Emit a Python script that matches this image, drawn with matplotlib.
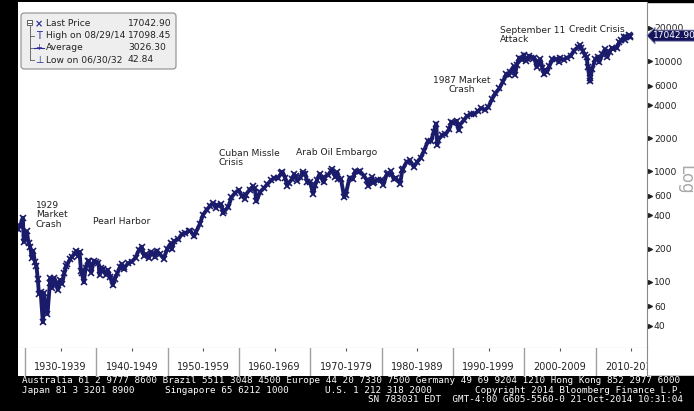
import matplotlib.pyplot as plt
import matplotlib.transforms as mtrans
from matplotlib.patches import Rectangle, FancyBboxPatch
from matplotlib.lines import Line2D
import numpy as np

# Dow Jones Industrial Average (decimal year, index level)
years = [
    1929.0, 1929.3, 1929.7, 1929.83, 1929.95,
    1930.25, 1930.5, 1930.75, 1930.95,
    1931.15, 1931.4, 1931.6, 1931.8, 1931.95,
    1932.2, 1932.5, 1932.65, 1932.9,
    1933.15, 1933.5, 1933.55, 1933.8, 1933.95,
    1934.1, 1934.5, 1934.6, 1934.95,
    1935.2, 1935.5, 1935.8, 1935.95,
    1936.3, 1936.6, 1936.95,
    1937.2, 1937.5, 1937.65, 1937.85, 1937.95,
    1938.25, 1938.5, 1938.85, 1938.95,
    1939.3, 1939.65, 1939.95,
    1940.3, 1940.45, 1940.7, 1940.95,
    1941.3, 1941.6, 1941.95,
    1942.3, 1942.6, 1942.95,
    1943.3, 1943.55, 1943.9, 1943.95,
    1944.5, 1944.95,
    1945.5, 1945.95,
    1946.35, 1946.7, 1946.95,
    1947.4, 1947.6, 1947.95,
    1948.2, 1948.45, 1948.95,
    1949.45, 1949.95,
    1950.45, 1950.55, 1950.95,
    1951.5, 1951.95,
    1952.5, 1952.95,
    1953.2, 1953.7, 1953.95,
    1954.5, 1954.95,
    1955.5, 1955.95,
    1956.3, 1956.8, 1956.95,
    1957.5, 1957.8, 1957.95,
    1958.5, 1958.95,
    1959.5, 1959.95,
    1960.4, 1960.8, 1960.95,
    1961.5, 1961.95,
    1962.2, 1962.45, 1962.95,
    1963.5, 1963.95,
    1964.5, 1964.95,
    1965.45, 1965.95,
    1966.1, 1966.5, 1966.75, 1966.95,
    1967.5, 1967.75, 1967.95,
    1968.2, 1968.6, 1968.92, 1968.97,
    1969.3, 1969.6, 1969.95,
    1970.4, 1970.7, 1970.95,
    1971.3, 1971.85, 1971.95,
    1972.5, 1972.95,
    1973.05, 1973.5, 1973.8, 1973.95,
    1974.3, 1974.75, 1974.95,
    1975.5, 1975.95,
    1976.3, 1976.75, 1976.95,
    1977.5, 1977.95,
    1978.15, 1978.7, 1978.85, 1978.95,
    1979.5, 1979.95,
    1980.25, 1980.7, 1980.95,
    1981.3, 1981.7, 1981.95,
    1982.6, 1982.9, 1982.95,
    1983.5, 1983.95,
    1984.5, 1984.95,
    1985.5, 1985.95,
    1986.5, 1986.95,
    1987.3, 1987.65, 1987.8, 1987.95,
    1988.5, 1988.95,
    1989.5, 1989.75, 1989.95,
    1990.5, 1990.8, 1990.95,
    1991.5, 1991.95,
    1992.5, 1992.95,
    1993.5, 1993.95,
    1994.5, 1994.95,
    1995.5, 1995.95,
    1996.5, 1996.95,
    1997.5, 1997.8, 1997.95,
    1998.5, 1998.7, 1998.95,
    1999.3, 1999.7, 1999.95,
    2000.2, 2000.5, 2000.7, 2000.95,
    2001.4, 2001.72, 2001.95,
    2002.25, 2002.55, 2002.78, 2002.95,
    2003.2, 2003.5, 2003.95,
    2004.5, 2004.8, 2004.95,
    2005.5, 2005.95,
    2006.5, 2006.95,
    2007.5, 2007.8, 2007.95,
    2008.25, 2008.5, 2008.75, 2008.9,
    2009.15, 2009.2, 2009.5, 2009.95,
    2010.3, 2010.5, 2010.95,
    2011.3, 2011.65, 2011.95,
    2012.3, 2012.5, 2012.95,
    2013.3, 2013.6, 2013.95,
    2014.05, 2014.3, 2014.66, 2014.76, 2014.8,
]
dow = [
    300, 320, 381, 230, 248,
    286, 226, 205, 165,
    190, 150, 140, 105, 78,
    80, 43, 79, 60,
    51, 98, 108, 88, 100,
    108, 95, 85, 104,
    96, 119, 140, 144,
    160, 169, 180,
    190, 170, 187, 125, 121,
    99, 134, 155, 154,
    121, 155, 150,
    148, 116, 133, 131,
    116, 128, 111,
    93, 107, 119,
    136, 145, 130, 135,
    148, 152,
    165, 193,
    208, 172, 177,
    165, 186, 181,
    167, 192, 177,
    162, 200,
    224, 197, 235,
    243, 269,
    274, 291,
    290, 258, 281,
    333, 404,
    451, 488,
    515, 468, 499,
    503, 420, 436,
    478, 584,
    644, 679,
    601, 566, 616,
    684, 731,
    706, 536, 652,
    707, 763,
    832, 874,
    868, 969,
    995, 870, 744, 786,
    860, 943, 905,
    825, 883, 985, 944,
    950, 800, 800,
    631, 760, 839,
    950, 797, 890,
    929, 1020,
    1051, 891, 987, 851,
    847, 584, 616,
    879, 852,
    1000, 990, 1005,
    916, 831,
    742, 887, 792, 805,
    842, 839,
    759, 940, 964,
    1000, 850, 875,
    776, 1040, 1046,
    1222, 1259,
    1100, 1212,
    1336, 1547,
    1893, 1896,
    2300, 2722, 1738, 1939,
    2142, 2169,
    2440, 2791, 2753,
    2881, 2365, 2634,
    2907, 3169,
    3319, 3301,
    3516, 3754,
    3625, 3834,
    4556, 5117,
    5655, 6448,
    7673, 7442, 7908,
    8952, 7539, 9181,
    10789, 10337, 11497,
    10128, 10448, 11215, 10788,
    10735, 8847, 10022,
    10404, 8736, 7592, 8342,
    7992, 8985, 10454,
    10435, 9800, 10783,
    10275, 10718,
    11150, 12463,
    13408, 13930, 13265,
    12263, 11350, 10850, 8776,
    7062, 6547, 8447, 10428,
    11009, 9774, 11578,
    12810, 10913, 12218,
    13213, 12880, 13104,
    14840, 15500, 16577,
    15698, 16500, 17098, 16400, 17042.9,
]

yticks = [40, 60, 100, 200, 400, 600, 1000, 2000, 4000, 6000, 10000, 20000]
decades = list(range(1930, 2020, 10))
decade_labels = [f'{d}-{d + 9}' for d in decades]

legend_rows = [
    ('Last Price', '17042.90'),
    ('High on 08/29/14', '17098.45'),
    ('Average', '3026.30'),
    ('Low on 06/30/32', '42.84'),
]

events = [
    ('1929\nMarket\nCrash', 36, 201, 'left'),
    ('Pearl Harbor', 93, 217, 'left'),
    ('Cuban Missle\nCrisis', 219, 149, 'left'),
    ('Arab Oil Embargo', 296, 148, 'left'),
    ('1987 Market\nCrash', 462, 76, 'center'),
    ('September 11\nAttack', 500, 26, 'left'),
    ('Credit Crisis', 569, 25, 'left'),
]

NAVY = '#1b1b6b'
W, H = 694, 411

fig = plt.figure(figsize=(W / 100, H / 100), dpi=100)
fig.patch.set_facecolor('white')
# pixel coords, origin top-left
pix = mtrans.Affine2D().scale(1 / W, -1 / H).translate(0, 1) + fig.transFigure

# black frame pieces
fig.add_artist(Rectangle((0, 0), 18, H, transform=pix, color='black', zorder=0))
fig.add_artist(Rectangle((0, 0), W, 2, transform=pix, color='black', zorder=0))
fig.add_artist(Rectangle((0, 376), W, H - 376, transform=pix, color='black', zorder=0))

# main plot
ax = fig.add_axes([18 / W, 1 - 348 / H, (647 - 18) / W, (348 - 2) / H])
ax.plot(years, dow, color=NAVY, lw=2.8, marker='x', ms=4, mew=1.2,
        solid_joinstyle='round', zorder=3)
ax.set_yscale('log')
ax.set_ylim(25.1, 34400)
ax.set_xlim(1929.02, 2017.2)
ax.set_xticks([])
ax.yaxis.tick_right()
ax.set_yticks(yticks)
ax.set_yticklabels([str(t) for t in yticks])
ax.yaxis.set_minor_locator(plt.NullLocator())
ax.tick_params(axis='y', length=0, pad=5, labelsize=6.6, labelcolor='#222')
for s in ['left', 'top']:
    ax.spines[s].set_visible(False)
ax.spines['right'].set_color('#8a8a8a')
ax.spines['bottom'].set_color('#9a9a9a')
ax.spines['bottom'].set_linewidth(0.8)

blend = mtrans.blended_transform_factory(ax.transAxes, ax.transData)
ax.scatter([1.005] * len(yticks), yticks, transform=blend, marker='>',
           s=7, color='#222', clip_on=False, zorder=4)

# last price tag
ax.text(1.009, dow[-1], f'{dow[-1]:.2f}', transform=blend, ha='left',
        va='center', fontsize=6.5, color='white', clip_on=False, zorder=6,
        bbox=dict(boxstyle='larrow,pad=0.12', fc='#14145a', ec='#9a9ac0', lw=0.6))

# event annotations
for txt, px, py, ha in events:
    fig.text(px, py, txt, transform=pix, ha=ha, va='top', fontsize=6.6,
             color='#222', linespacing=1.05, multialignment='center' if ha == 'center' else 'left')

# decade band under the plot
bax = fig.add_axes([18 / W, 1 - 376 / H, (647 - 18) / W, (376 - 348) / H])
bax.set_xlim(ax.get_xlim())
bax.set_ylim(0, 1)
bax.set_yticks([])
bax.set_xticks([d + 5 for d in decades])
bax.set_xticklabels([])
bax.xaxis.tick_top()
bax.tick_params(axis='x', direction='in', length=2, color='#555', width=0.8)
for s in ['left', 'bottom', 'top']:
    bax.spines[s].set_visible(False)
bax.spines['right'].set_color('#8a8a8a')
for d, lab in zip(decades, decade_labels):
    bax.axvline(d, color='#a0a0a0', lw=1)
    bax.text(d + 5, 0.33, lab, ha='center', va='center', fontsize=7,
             color='#222', clip_on=True)

# legend box
fig.add_artist(FancyBboxPatch((21, 13), 155, 56, transform=pix,
                              boxstyle='round,pad=0,rounding_size=3',
                              fc='#eeeeee', ec='#8c8c8c', lw=0.8, zorder=5))
row_y = [24, 36, 48, 60]
ICON = '#2b2b9a'
fig.add_artist(Rectangle((27.5, 20.5), 5, 5, transform=pix, fc='white',
                         ec='#444', lw=0.6, zorder=6))
fig.add_artist(Line2D([28.5, 31.5], [23, 23], transform=pix, color='#444', lw=0.6, zorder=7))
fig.add_artist(Line2D([30, 30], [26, 60], transform=pix, color='#555', lw=0.6, zorder=6))
for y in row_y[1:]:
    fig.add_artist(Line2D([30, 34], [y, y], transform=pix, color='#555', lw=0.6, zorder=6))
fig.text(38.5, row_y[0], '\u00d7', transform=pix, ha='center', va='center',
         fontsize=7, color=ICON, fontweight='bold', zorder=7)
fig.text(39, row_y[1], 'T', transform=pix, ha='center', va='center',
         fontsize=7, color=ICON, zorder=7)
fig.add_artist(Line2D([34, 44], [row_y[2], row_y[2]], transform=pix,
                      color=ICON, lw=0.8, zorder=7))
fig.text(39, row_y[2], '+', transform=pix, ha='center', va='center',
         fontsize=6, color=ICON, zorder=7)
fig.text(39, row_y[3], '\u22a5', transform=pix, ha='center', va='center',
         fontsize=7, color=ICON, zorder=7)
for (name, val), y in zip(legend_rows, row_y):
    fig.text(46, y, name, transform=pix, ha='left', va='center', fontsize=6.6,
             color='#222', zorder=7)
    fig.text(128, y, val, transform=pix, ha='left', va='center', fontsize=6.6,
             color='#222', zorder=7)

# axis scale label
fig.text(685, 180, 'Log', transform=pix, rotation=-90, ha='center', va='center',
         fontsize=12, color='#aaaaaa')

# footer
mono = dict(transform=pix, fontsize=6.7, color='white', family='DejaVu Sans Mono', va='center')
fig.text(22, 380, 'Australia 61 2 9777 8600 Brazil 5511 3048 4500 Europe 44 20 7330 7500 '
                  'Germany 49 69 9204 1210 Hong Kong 852 2977 6000', ha='left', **mono)
fig.text(22, 390, 'Japan 81 3 3201 8900', ha='left', **mono)
fig.text(165, 390, 'Singapore 65 6212 1000', ha='left', **mono)
fig.text(325, 390, 'U.S. 1 212 318 2000', ha='left', **mono)
fig.text(683, 390, 'Copyright 2014 Bloomberg Finance L.P.', ha='right', **mono)
fig.text(683, 399, 'SN 783031 EDT  GMT-4:00 G605-5560-0 21-Oct-2014 10:31:04', ha='right', **mono)

plt.savefig('out.png', dpi=100, facecolor=fig.get_facecolor())
